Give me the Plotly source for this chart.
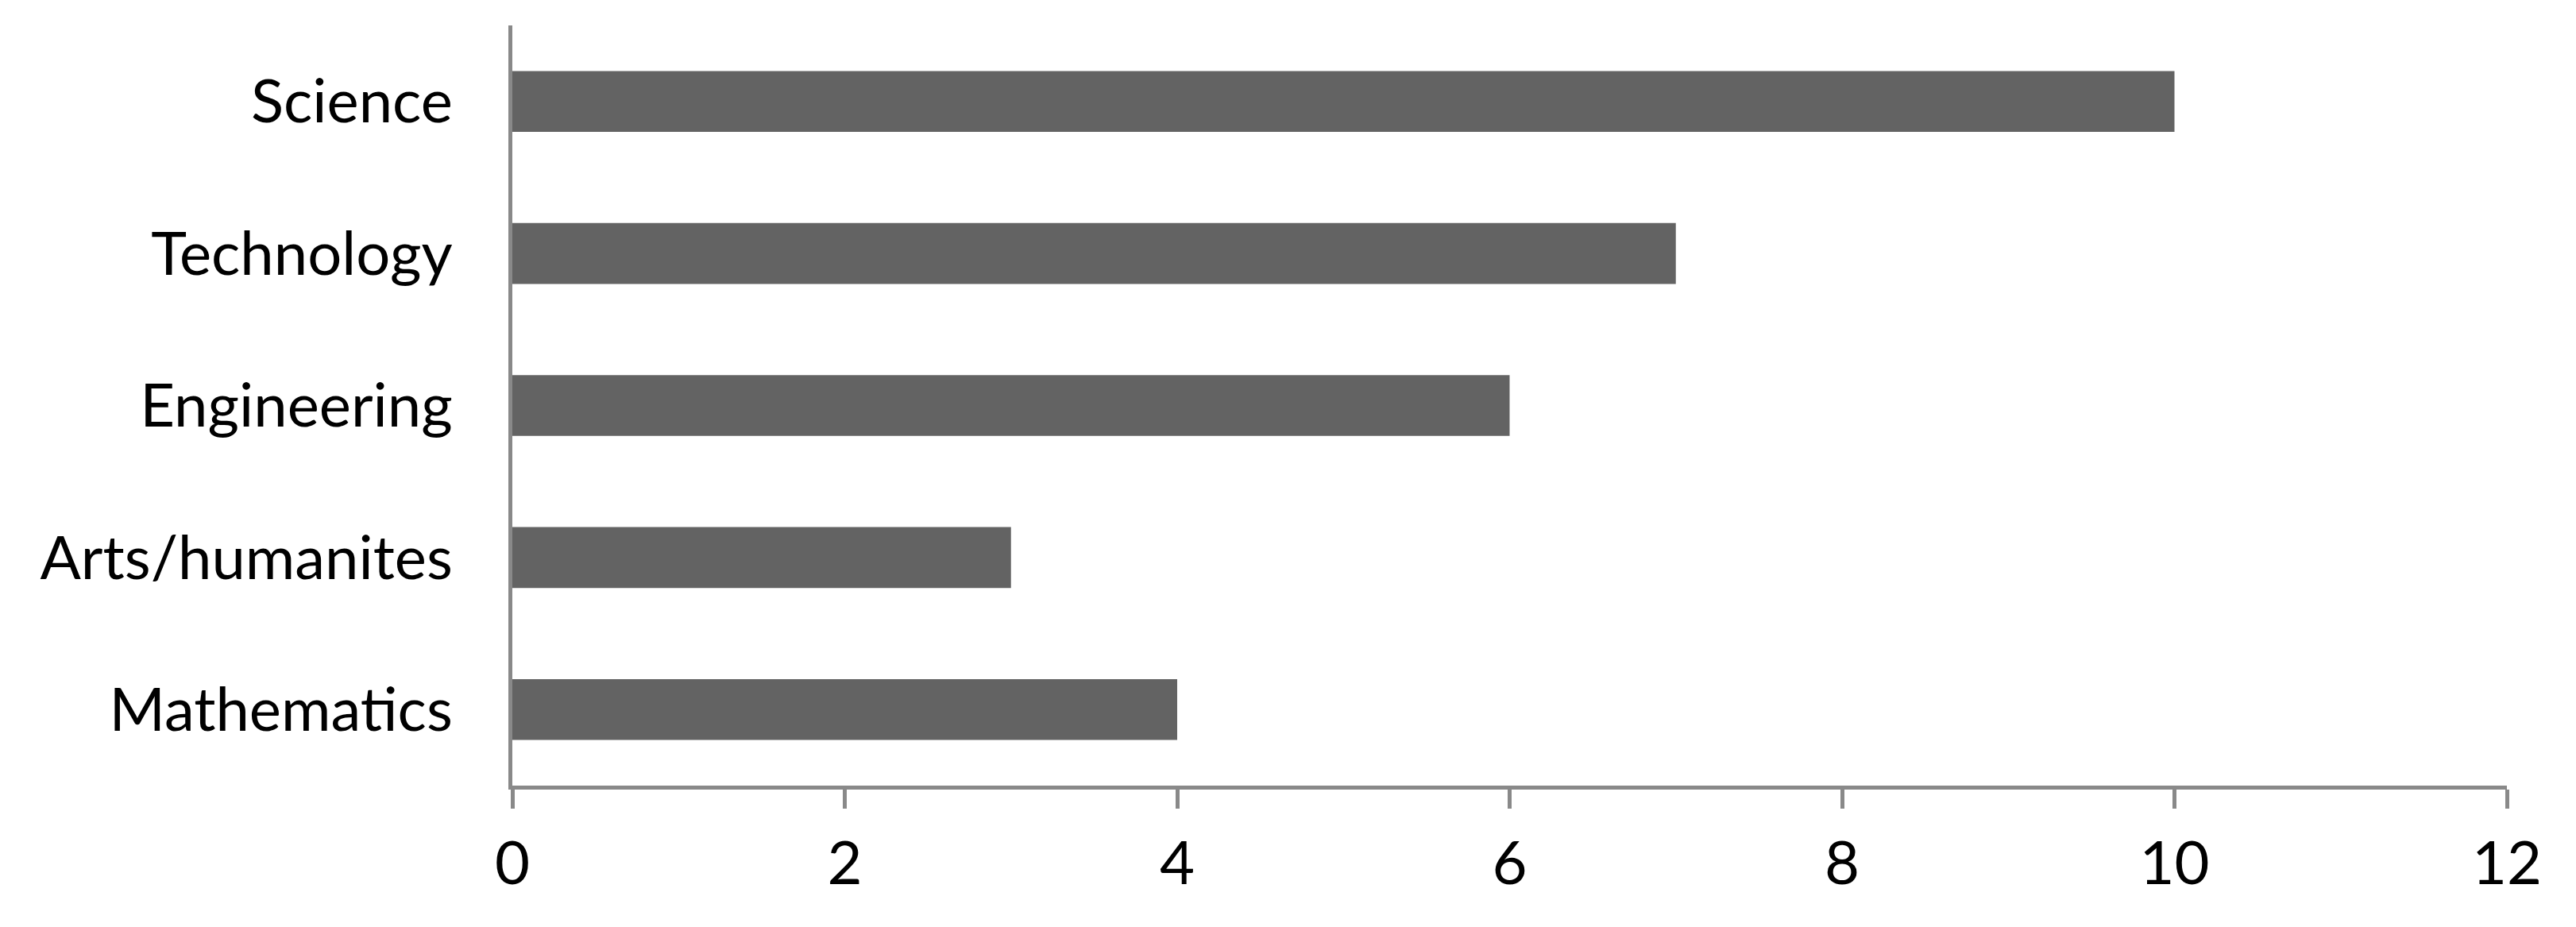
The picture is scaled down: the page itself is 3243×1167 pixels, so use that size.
import plotly.graph_objects as go

# fields listed bottom to top
fields = ['Mathematics', 'Arts/humanites', 'Engineering', 'Technology', 'Science']
counts = [4, 3, 6, 7, 10]
x_ticks = [0, 2, 4, 6, 8, 10, 12]

fig = go.Figure(data=[
    go.Bar(y=fields, x=counts, orientation='h', marker_color='#636363',
           marker_line_width=0)
])

fig.update_layout(
    width=3243, height=1167,
    margin=dict(l=645, r=87, t=32, b=178),
    plot_bgcolor='white', paper_bgcolor='white',
    bargap=0.6,
    showlegend=False,
    font=dict(family='Lato', size=76, color='black'),
)
fig.update_xaxes(
    range=[0, 12], tickvals=x_ticks, showgrid=False, zeroline=False,
    showline=True, linecolor='#898989', linewidth=5,
    ticks='outside', ticklen=24, tickwidth=5, tickcolor='#898989',
    automargin=False, ticklabelstandoff=4,
)
fig.update_yaxes(
    showgrid=False, zeroline=False,
    showline=True, linecolor='#898989', linewidth=5,
    ticks='', ticklabelstandoff=55, automargin=False,
)

# drop the page's default body margin so the figure sits at the corner
fig.write_html("out.html", config={'displayModeBar': False},
               post_script="document.body.style.margin='0';")
